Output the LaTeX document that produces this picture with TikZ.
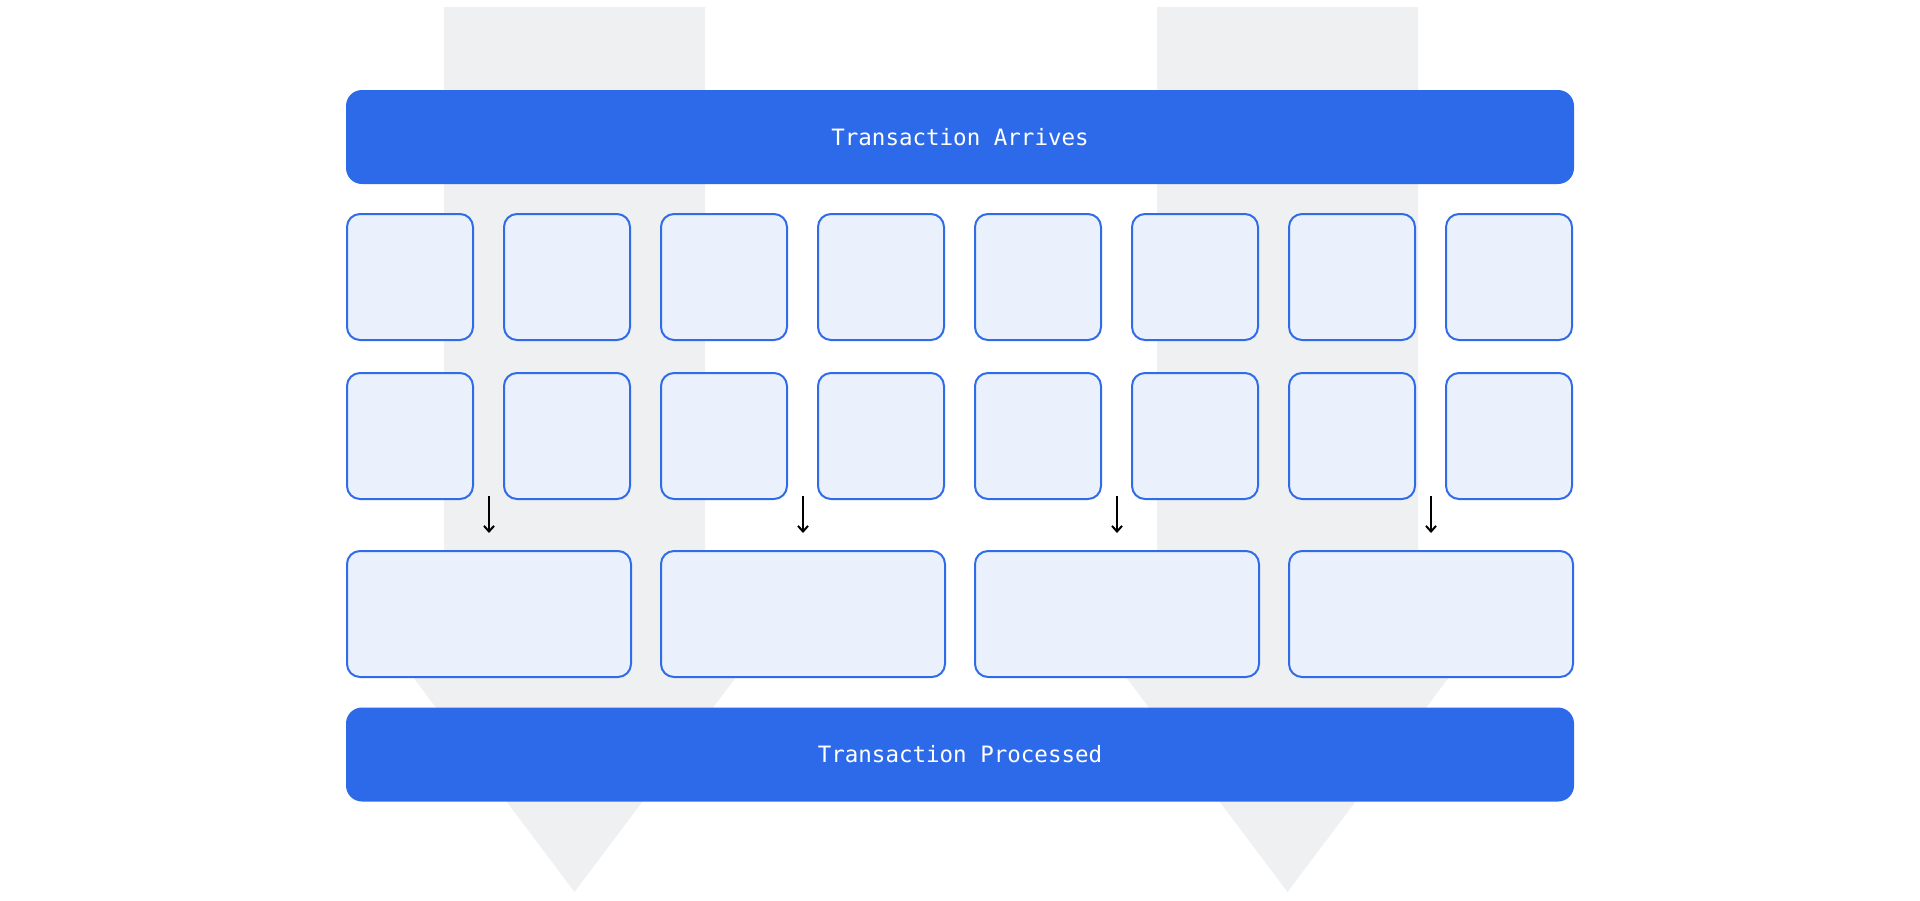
\documentclass[tikz,border=0pt]{standalone}
\usepackage{fontspec}
\setmonofont{DejaVu Sans Mono}
\usetikzlibrary{arrows.meta}
\definecolor{barblue}{RGB}{45,106,233}
\definecolor{cellfill}{RGB}{234,241,253}
\definecolor{cellline}{RGB}{48,108,232}
\definecolor{flowgray}{RGB}{239,240,242}
\tikzset{
  bar/.style={fill=barblue,rounded corners=8pt,minimum width=614pt,minimum height=47pt,inner sep=0pt,text=white,font=\ttfamily\fontsize{11.25}{13}\selectfont},
  cell/.style={draw=cellline,fill=cellfill,line width=1pt,rounded corners=6.5pt,minimum width=63pt,minimum height=63pt,inner sep=0pt},
  widecell/.style={cell,minimum width=142pt},
  flow/.style={fill=flowgray},
  link/.style={-{Straight Barb[length=2.8pt,width=5pt]},line width=1pt,black}
}
\begin{document}
\begin{tikzpicture}[x=0.5pt,y=-0.5pt]
  \useasboundingbox (0,0) rectangle (1920,900);
  % background flow arrows
  \fill[flow] (444,7) -- (705,7) -- (705,620) -- (779,620) -- (574.5,892) -- (370,620) -- (444,620) -- cycle;
  \fill[flow] (1157,7) -- (1418,7) -- (1418,620) -- (1492,620) -- (1287.5,892) -- (1083,620) -- (1157,620) -- cycle;
  % bars
  \node[bar] (arrive) at (960,137) {Transaction Arrives};
  \node[bar] (done) at (960,754.5) {Transaction Processed};
  % small cells, two rows
  \foreach \i in {1,...,8} {
    \node[cell] (a\i) at ({410+157*(\i-1)},277) {};
    \node[cell] (b\i) at ({410+157*(\i-1)},436) {};
  }
  % wide cells with incoming links
  \foreach \j in {1,...,4} {
    \node[widecell] (w\j) at ({489+314*(\j-1)},614) {};
    \coordinate (s\j) at ([yshift=27pt]w\j.north);
    \coordinate (e\j) at ([yshift=8.5pt]w\j.north);
    \draw[link] (s\j) -- (e\j);
  }
\end{tikzpicture}
\end{document}
